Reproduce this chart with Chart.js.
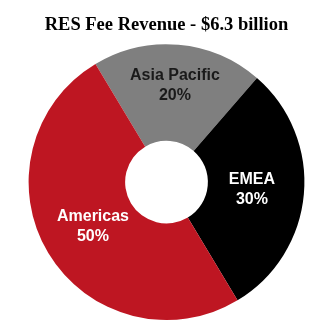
<!DOCTYPE html>
<html>
<head>
<meta charset="utf-8">
<script src="https://cdn.jsdelivr.net/npm/chart.js@4/dist/chart.umd.min.js"></script>
<style>
  html, body { margin: 0; padding: 0; background: #ffffff; }
  #wrap { width: 333px; height: 333px; }
</style>
</head>
<body>
<div id="wrap"><canvas id="c" width="333" height="333"></canvas></div>
<script>
const categories = ['Asia Pacific', 'EMEA', 'Americas'];
const shares = [20, 30, 50];
const titleText = 'RES Fee Revenue - $6.3 billion';

const sliceColors = ['#7f7f7f', '#000000', '#be1622'];
const labelColors = ['#1a1a1a', '#ffffff', '#ffffff'];
const labelRadiusFrac = [0.575, 0.46, 0.46];

const sliceLabels = {
  id: 'sliceLabels',
  afterDatasetsDraw(chart) {
    const ctx = chart.ctx;
    const meta = chart.getDatasetMeta(0);
    const data = chart.data.datasets[0].data;
    const total = data.reduce((a, b) => a + b, 0);
    ctx.save();
    ctx.font = 'bold 16px "Liberation Sans", Arial, sans-serif';
    ctx.textAlign = 'center';
    ctx.textBaseline = 'middle';
    meta.data.forEach((arc, i) => {
      const p = arc.getProps(['x', 'y', 'startAngle', 'endAngle', 'innerRadius', 'outerRadius'], true);
      const mid = (p.startAngle + p.endAngle) / 2;
      const r = p.innerRadius + (p.outerRadius - p.innerRadius) * labelRadiusFrac[i];
      const cx = p.x + Math.cos(mid) * r;
      const cy = p.y + Math.sin(mid) * r;
      const pct = Math.round(data[i] / total * 100) + '%';
      ctx.fillStyle = labelColors[i];
      ctx.fillText(chart.data.labels[i], cx, cy - 10);
      ctx.fillText(pct, cx, cy + 10);
    });
    ctx.restore();
  }
};

new Chart(document.getElementById('c'), {
  type: 'doughnut',
  data: {
    labels: categories,
    datasets: [{
      data: shares,
      backgroundColor: sliceColors,
      borderWidth: 0,
      hoverOffset: 0
    }]
  },
  options: {
    responsive: false,
    animation: false,
    rotation: -31,
    cutout: '30%',
    layout: { padding: { top: 0, bottom: 13, left: 0, right: 0 } },
    plugins: {
      legend: { display: false },
      tooltip: { enabled: false },
      title: {
        display: true,
        text: titleText,
        color: '#000000',
        font: { family: '"Liberation Serif", "Times New Roman", serif', size: 18.5, weight: 'bold', lineHeight: 1.2 },
        padding: { top: 14, bottom: 8 }
      }
    },
    events: []
  },
  plugins: [sliceLabels]
});
</script>
</body>
</html>
